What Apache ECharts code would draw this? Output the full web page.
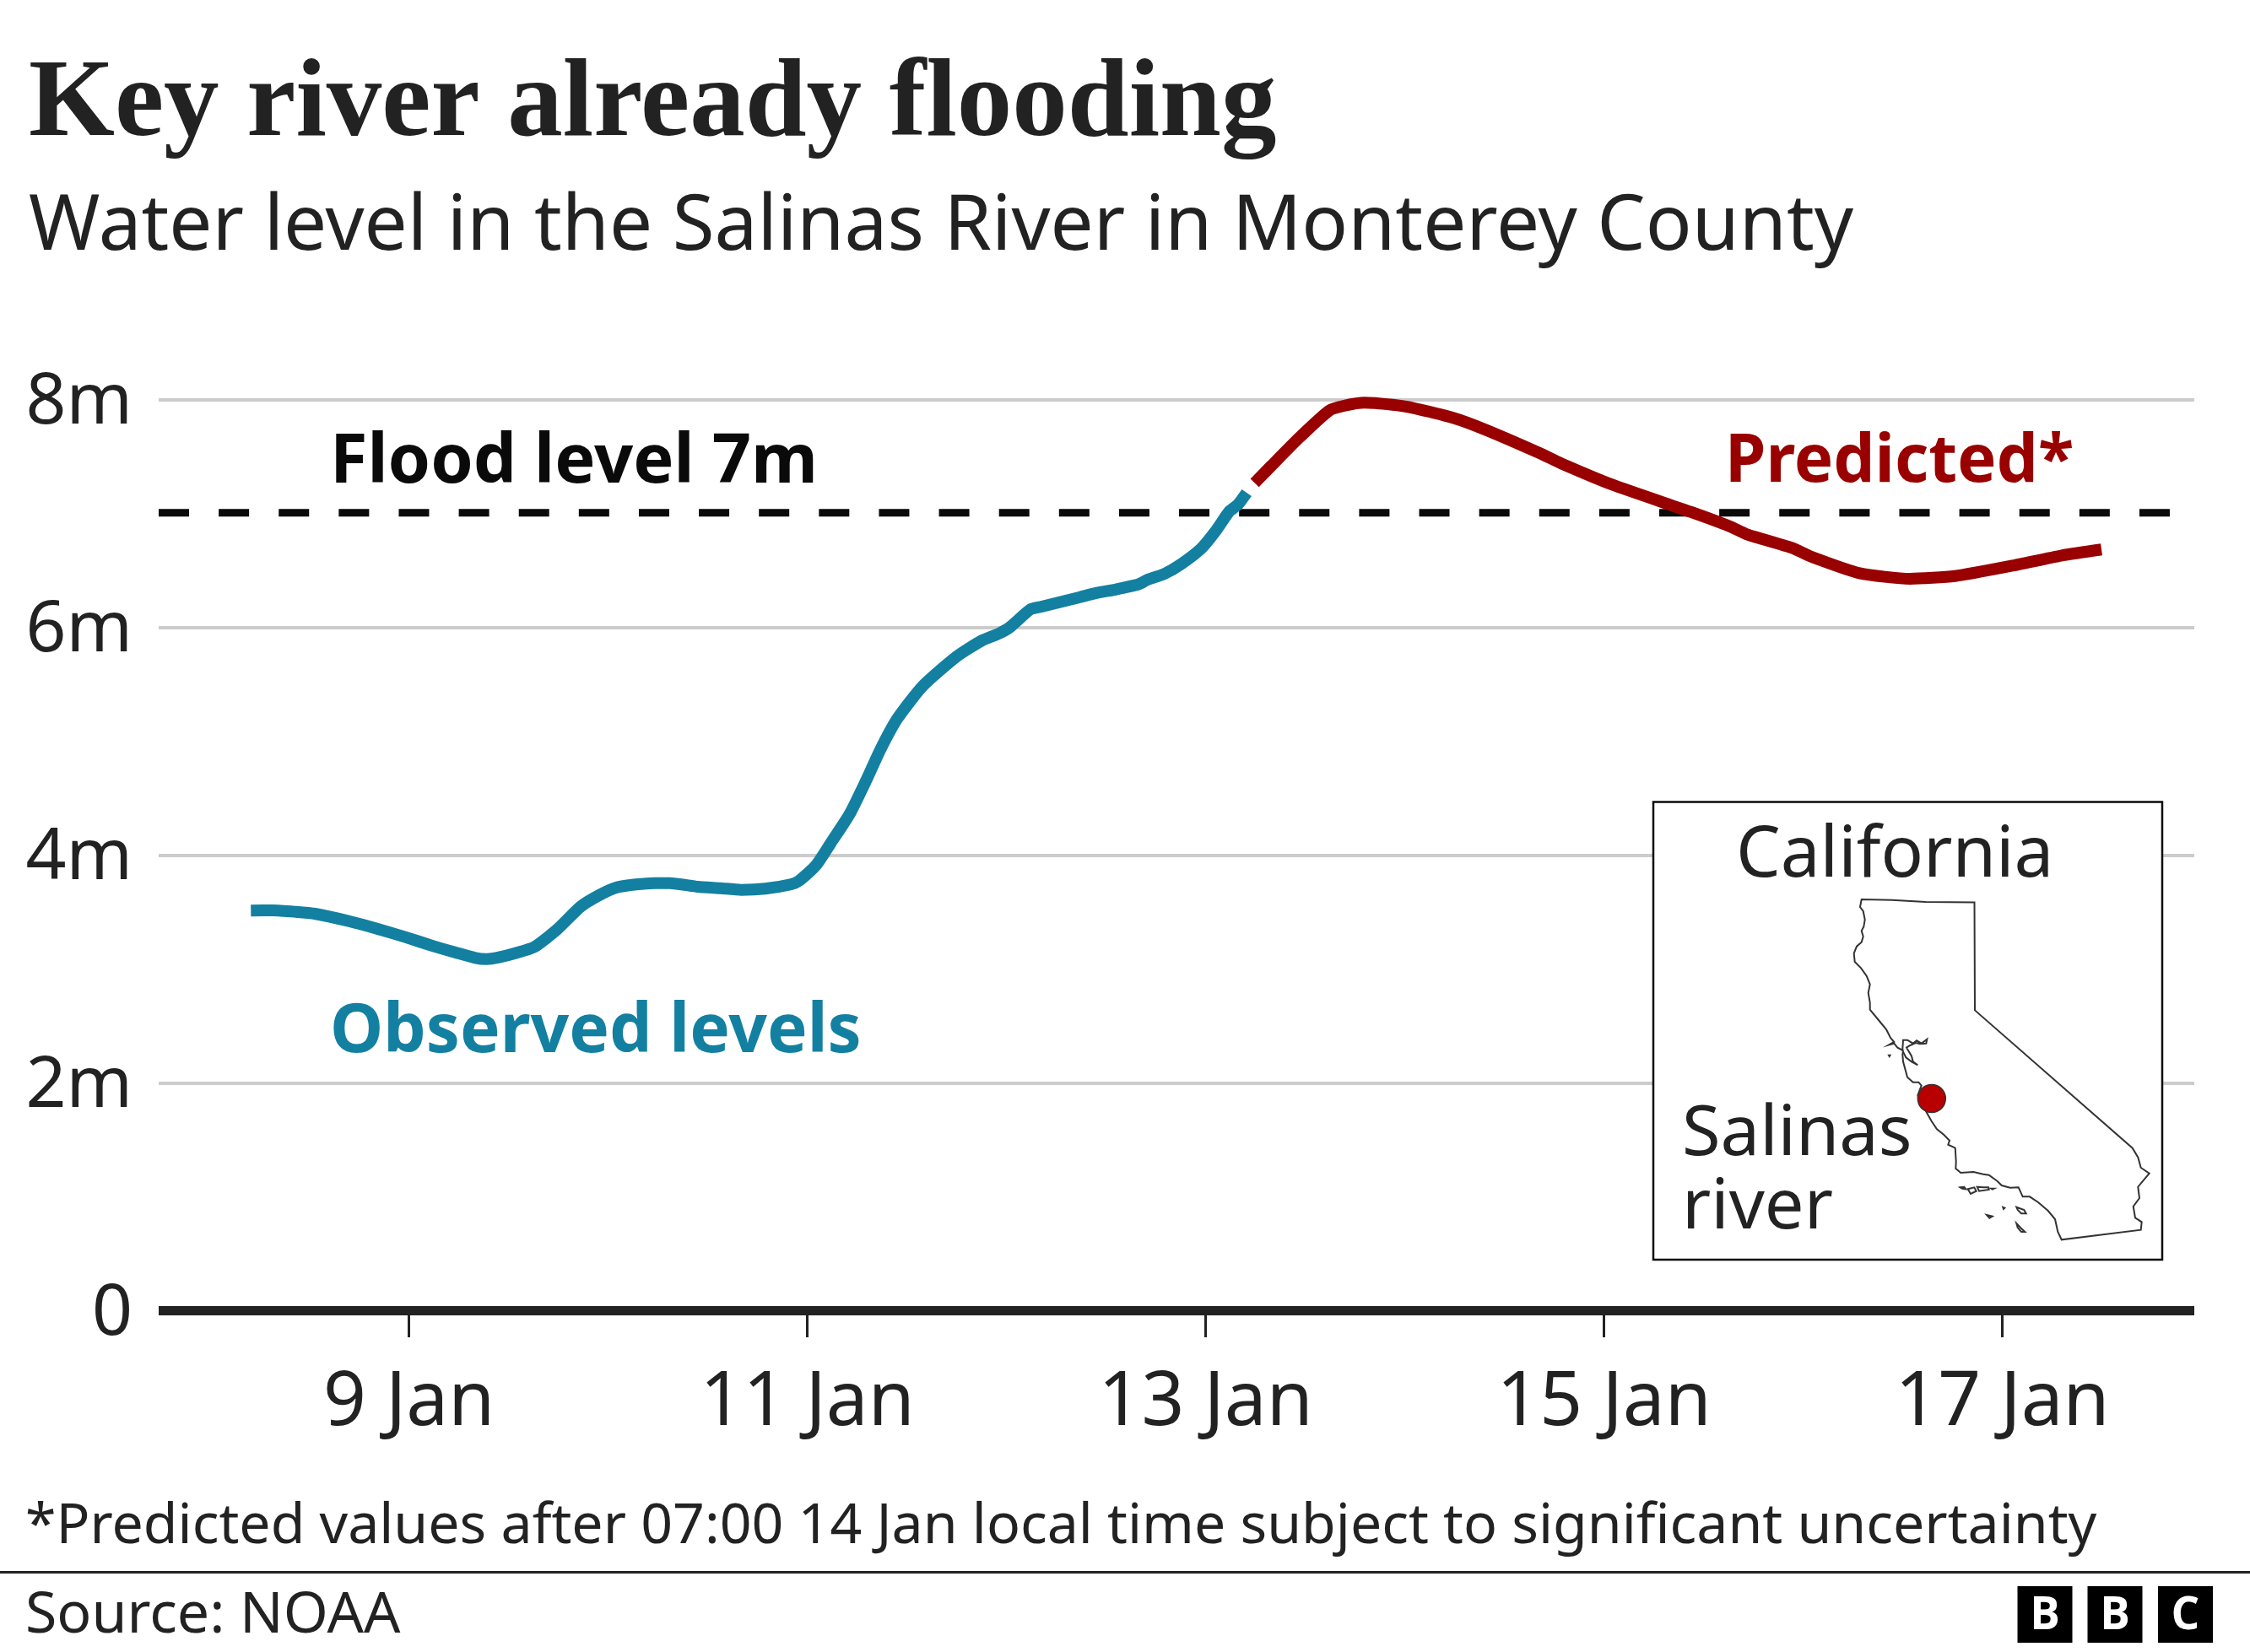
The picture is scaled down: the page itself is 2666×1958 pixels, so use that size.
<!DOCTYPE html>
<html>
<head>
<meta charset="utf-8">
<style>html,body{margin:0;padding:0;background:#fff}#chart{width:2666px;height:1958px}</style>
<script src="https://cdn.jsdelivr.net/npm/echarts@6/dist/echarts.min.js"></script>
</head>
<body>
<div id="chart"></div>
<script>
const titleText = 'Key river already flooding';
const subtitleText = 'Water level in the Salinas River in Monterey County';
const footnoteText = '*Predicted values after 07:00 14 Jan local time subject to significant uncertainty';
const sourceText = 'Source: NOAA';

const xTickDays = [9, 11, 13, 15, 17];
const yTicks = [0, 2, 4, 6, 8];
const floodLevel = 7.01;

// x = day of January (with fraction), y = metres
const observedDays = [8.206,8.317,8.430,8.528,8.698,8.839,8.981,9.122,9.235,9.333,9.390,9.447,9.545,9.630,9.743,9.862,9.955,10.040,10.139,10.231,10.308,10.450,10.562,10.668,10.789,10.916,10.958,11.043,11.120,11.212,11.297,11.367,11.452,11.579,11.749,11.876,11.961,12.017,12.120,12.172,12.370,12.455,12.540,12.663,12.709,12.794,12.879,12.978,13.048,13.119,13.161,13.206];
const observedLevels = [3.516,3.519,3.506,3.489,3.424,3.358,3.284,3.205,3.148,3.101,3.091,3.104,3.148,3.198,3.350,3.552,3.652,3.719,3.746,3.758,3.758,3.726,3.713,3.699,3.709,3.746,3.778,3.913,4.116,4.363,4.665,4.931,5.202,5.487,5.746,5.887,5.948,6.005,6.161,6.183,6.269,6.306,6.333,6.381,6.422,6.474,6.561,6.696,6.844,7.022,7.079,7.185];
const predictedDays = [13.246,13.331,13.472,13.620,13.698,13.797,13.938,14.023,14.249,14.404,14.673,14.786,15.040,15.435,15.633,15.718,15.944,16.043,16.283,16.537,16.763,17.045,17.300,17.498];
const predictedLevels = [7.272,7.424,7.672,7.906,7.950,7.976,7.958,7.936,7.839,7.739,7.536,7.442,7.257,7.017,6.889,6.820,6.701,6.622,6.479,6.430,6.454,6.543,6.635,6.687];

// Inset outline of California, in map units (y up, so the rows are negative)
const californiaOutline = [[2205.7,-1066],[2241.7,-1066.7],[2281.7,-1069],[2339.5,-1069.5],[2340,-1197.4],[2526.7,-1360.7],[2533.3,-1371.7],[2536.7,-1384],[2546.7,-1390.7],[2533.3,-1406.7],[2535,-1420],[2527.7,-1430],[2530,-1443.3],[2537.7,-1448.3],[2536.7,-1457.7],[2442.7,-1469.3],[2438.3,-1460],[2435,-1445],[2426.7,-1435],[2415,-1425],[2405,-1418.3],[2396.7,-1418.3],[2391.7,-1407.3],[2381.7,-1407.7],[2371.7,-1405],[2366.7,-1400],[2356.7,-1392.7],[2350,-1391.7],[2338.3,-1389],[2323.3,-1390],[2317.3,-1385],[2317.7,-1376.7],[2316.7,-1360.7],[2308.3,-1356.7],[2310,-1351.7],[2303.3,-1345],[2295,-1338.3],[2288.3,-1328.3],[2282.7,-1318.3],[2272.3,-1298.3],[2276.7,-1286.7],[2273.3,-1282.7],[2266.7,-1282.7],[2260,-1276.7],[2257.7,-1268.3],[2255,-1258.3],[2254.3,-1250],[2255,-1245],[2248.3,-1241.7],[2244.3,-1236.7],[2238.3,-1238.3],[2244.3,-1235],[2240,-1230],[2235,-1220],[2226.7,-1210],[2215.7,-1196.7],[2215.7,-1188.3],[2213.7,-1176.7],[2215.7,-1166.7],[2211.7,-1156.7],[2205,-1147.3],[2197.7,-1140],[2196.7,-1130],[2200,-1121.7],[2205.7,-1116.7],[2207.7,-1110],[2205.7,-1103.3],[2208.3,-1098.3],[2209.7,-1090],[2207.7,-1080],[2204,-1075]];
const sanFranciscoBay = [[2254.3,-1243.3],[2255,-1232.7],[2260,-1232.7],[2266.7,-1236.7],[2271,-1233.3],[2276.7,-1236.7],[2283.3,-1231.7],[2282.3,-1236.7],[2275,-1237.3],[2270,-1236],[2263.3,-1239],[2259,-1241.7],[2265,-1251.7],[2266.7,-1258.3],[2272.3,-1262.3],[2265,-1258.3],[2258.3,-1253.3],[2255,-1246.7]];
const islands = [
  [[2322.7,-1407.3],[2327.3,-1406.7],[2329.3,-1409.3],[2325,-1408.7]],
  [[2331.7,-1409.3],[2339.3,-1407.3],[2341.7,-1411.7],[2335,-1415]],
  [[2342.7,-1406.7],[2350,-1407.3],[2356,-1407.3],[2356.7,-1410],[2345,-1411.7]],
  [[2359.3,-1408.7],[2362.7,-1408.7],[2360.7,-1409.7]],
  [[2354,-1440],[2360.7,-1441.7],[2357.3,-1443.7]],
  [[2373.3,-1431],[2375.3,-1431.7],[2374,-1433]],
  [[2389.3,-1430.7],[2398.3,-1434],[2400.7,-1438.3],[2395,-1438.3],[2390.7,-1434]],
  [[2389.3,-1450],[2394,-1455],[2399.3,-1460],[2395,-1460],[2390.7,-1455]],
  [[2238,-1250.7],[2239.5,-1250.7],[2238.7,-1252]]
];
const salinasPoint = [2288.8, -1302];

const INK = '#222222', BLUE = '#1380A1', RED = '#990000', GRID = '#CCCCCC';
const SANS = '"Noto Sans", sans-serif', SERIF = '"Liberation Serif", serif';
const X_MIN = 7.743, X_MAX = 17.964;

const zip = (a, b) => a.map((v, i) => [v, b[i]]);
const closed = r => r.concat([r[0]]);
const feature = (name, ring) => ({ type: 'Feature', properties: { name }, geometry: { type: 'Polygon', coordinates: [closed(ring)] } });

echarts.registerMap('california', {
  type: 'FeatureCollection',
  features: [feature('California', californiaOutline), feature('Bay', sanFranciscoBay)]
    .concat(islands.map((r, i) => feature('Island' + i, r)))
});

// places text so its baseline sits at about y
function txt(text, x, baseline, size, color, weight, align) {
  return {
    type: 'text', z: 10, x, y: baseline - 0.8 * size,
    style: { text, fill: color || INK, font: (weight || 'normal') + ' ' + size + 'px ' + SANS, align: align || 'left', verticalAlign: 'top' }
  };
}
function logoBox(x, letter) {
  return [
    { type: 'rect', z: 10, shape: { x, y: 1880, width: 65, height: 67 }, style: { fill: '#000' } },
    { type: 'text', z: 11, x: x + 32.5, y: 1932 - 0.8 * 53, style: { text: letter, fill: '#fff', font: 'bold 53px "Open Sans", sans-serif', align: 'center', verticalAlign: 'top' } }
  ];
}

const chart = echarts.init(document.getElementById('chart'), null, { renderer: 'canvas' });
chart.setOption({
  animation: false,
  backgroundColor: '#fff',
  title: [
    { text: titleText, left: 34, top: 61, padding: 0, textStyle: { fontFamily: SERIF, fontWeight: 'bold', fontSize: 131, color: INK } },
    { text: subtitleText, left: 34, top: 225, padding: 0, textStyle: { fontFamily: SANS, fontWeight: 'normal', fontSize: 90.8, color: INK } }
  ],
  grid: { left: 188, right: 66, top: 474, bottom: 404, containLabel: false },
  xAxis: {
    type: 'value', min: X_MIN, max: X_MAX, offset: -1,
    splitLine: { show: false },
    axisLine: { show: true, onZero: false, lineStyle: { color: INK, width: 11, cap: 'butt' } },
    axisTick: { show: true, length: 32, customValues: xTickDays, lineStyle: { color: INK, width: 3 } },
    axisLabel: { customValues: xTickDays, formatter: v => v + ' Jan', margin: 66, fontFamily: SANS, fontSize: 89, color: INK }
  },
  yAxis: {
    type: 'value', min: 0, max: 8, interval: 2,
    axisLine: { show: false }, axisTick: { show: false },
    splitLine: { show: true, lineStyle: { color: GRID, width: 4 } },
    axisLabel: {
      formatter: v => '{v|' + (v === 0 ? '0' : v + 'm') + '}', margin: 31,
      rich: { v: { padding: [8, 0, 0, 0], fontFamily: SANS, fontSize: 84, color: INK } }
    }
  },
  geo: {
    map: 'california', silent: true, roam: false, aspectScale: 1, z: 3,
    left: 2196.7, top: 1066, width: 350, height: 403.3,
    itemStyle: { areaColor: '#fff', borderColor: '#333', borderWidth: 2 },
    label: { show: false }, emphasis: { disabled: true }
  },
  series: [
    { name: 'Flood level', type: 'line', z: 1, symbol: 'none', silent: true, data: [[X_MIN, floodLevel], [X_MAX, floodLevel]],
      lineStyle: { color: '#0a0a0a', width: 9, type: [36, 35.12] } },
    { name: 'Observed levels', type: 'line', z: 2, symbol: 'none', silent: true, smooth: 0.2, data: zip(observedDays, observedLevels),
      lineStyle: { color: BLUE, width: 14, cap: 'butt', join: 'round' } },
    { name: 'Predicted', type: 'line', z: 2, symbol: 'none', silent: true, smooth: 0.2, data: zip(predictedDays, predictedLevels),
      lineStyle: { color: RED, width: 14, cap: 'butt', join: 'round' } },
    { name: 'Salinas river', type: 'scatter', coordinateSystem: 'geo', z: 4, silent: true, symbolSize: 33, data: [salinasPoint],
      itemStyle: { color: '#B80000', opacity: 1, borderColor: '#333', borderWidth: 1.5 } }
  ],
  graphic: [
    { type: 'rect', z: 1, shape: { x: 1959, y: 950.5, width: 603, height: 542.5 }, style: { fill: '#fff', stroke: '#0a0a0a', lineWidth: 2.5 } },
    txt('Flood level 7m', 391, 573, 81, '#0a0a0a', 'bold'),
    txt('Predicted*', 2044, 572, 78, RED, 'bold'),
    txt('Observed levels', 391, 1248, 80, BLUE, 'bold'),
    txt('California', 2057, 1040, 83.5),
    txt('Salinas', 1993, 1370, 83),
    txt('river', 1993, 1457, 83),
    txt(footnoteText, 30, 1830, 66.2),
    txt(sourceText, 30, 1936, 68),
    { type: 'rect', z: 10, shape: { x: 0, y: 1862, width: 2666, height: 3 }, style: { fill: INK } }
  ].concat(logoBox(2390.5, 'B'), logoBox(2473.5, 'B'), logoBox(2557, 'C'))
});
</script>
</body>
</html>
